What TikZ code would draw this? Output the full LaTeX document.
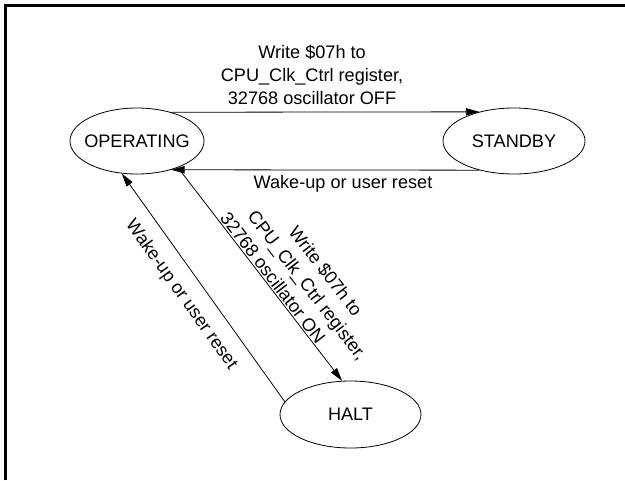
\documentclass[tikz,border=0pt]{standalone}
\usepackage{fontspec}
\setmainfont{Liberation Sans}
\usetikzlibrary{shapes}
\usetikzlibrary{arrows.meta}
\usetikzlibrary{math}

\tikzset{
  state/.style={draw, ellipse, inner sep=0pt, line width=0.6pt},
  trans/.style={line width=0.6pt, -{Triangle[length=10pt,width=5.5pt]}},
  lbl/.style={font=\fontsize{13.6pt}{17.25pt}\selectfont, align=center},
}

\begin{document}
\begin{tikzpicture}[x=0.75pt, y=-0.75pt]
      \tikzmath{
        \w = 625;
        \h = 480;
        \yMid = 141;
      }

      \useasboundingbox (0,0) rectangle (\w,\h);
      \draw[line width=2.25pt] (5,\h) -- (5,5.5) -- (\w,5.5);

      \node[state, minimum width=100.5pt, minimum height=49.5pt,
        label={[lbl]center:OPERATING}] (op) at (137,\yMid) {};
      \node[state, minimum width=106.5pt, minimum height=49.5pt,
        label={[lbl]center:STANDBY}] (sb) at (514,\yMid) {};
      \node[state, minimum width=105.75pt, minimum height=50.25pt,
        label={[lbl]center:HALT}] (halt) at (350.5,414.5) {};

      \draw[trans] (op.40) -- node[lbl, above, pos=0.457, inner sep=5pt]
        {Write \$07h to\\CPU\_Clk\_Ctrl register,\\32768 oscillator OFF} (sb.140);
      \draw[trans] (sb.220) -- node[lbl, below, pos=0.4425, inner sep=4pt]
        {Wake-up or user reset} (op.-40);

      \draw[trans] (op.-33) -- node[lbl, sloped, above, pos=0.64, inner sep=0.8pt]
        {Write \$07h to\\CPU\_Clk\_Ctrl register,\\32768 oscillator ON\hspace*{40pt}} (halt.104);
      \draw[trans] (halt.169) -- node[lbl, sloped, below, pos=0.525, inner sep=10pt]
        {Wake-up or user reset} (op.245);

    \end{tikzpicture}
\end{document}
